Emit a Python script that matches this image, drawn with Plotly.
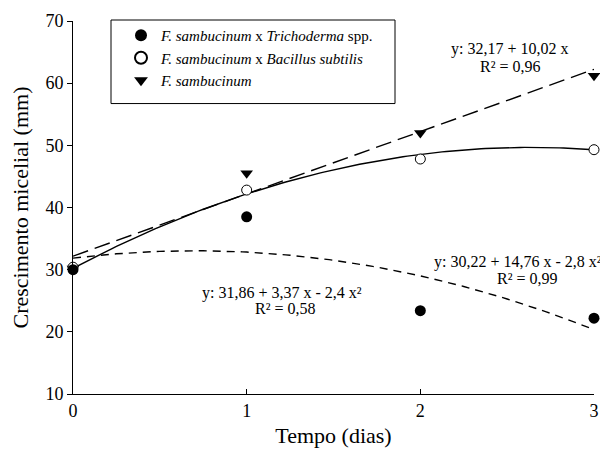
import numpy as np
import plotly.graph_objects as go

# Data
dias = [0, 1, 2, 3]
trichoderma = [30.0, 38.5, 23.4, 22.2]
bacillus = [30.4, 42.8, 47.8, 49.3]
sambucinum = [30.2, 45.5, 52.0, 61.2]

# Regression coefficients (from the chart's equations)
coef_trich = [31.86, 3.37, -2.4]
coef_bac = [30.22, 14.76, -2.8]
coef_samb = [32.17, 10.02, 0.0]

names = ["<i>F. sambucinum</i> x <i>Trichoderma</i> spp.",
         "<i>F. sambucinum</i> x <i>Bacillus subtilis</i>",
         "<i>F. sambucinum</i>"]

xs = np.linspace(0, 3, 121)
def curve(c):
    return c[0] + c[1] * xs + c[2] * xs ** 2

FONT = "Liberation Serif, Times New Roman, Times, serif"
fig = go.Figure()

# fitted lines
fig.add_trace(go.Scatter(x=xs, y=curve(coef_trich), mode="lines", showlegend=False,
                         line=dict(color="black", width=1.4, dash="8px,6px")))
fig.add_trace(go.Scatter(x=xs, y=curve(coef_bac), mode="lines", showlegend=False,
                         line=dict(color="black", width=1.4)))
fig.add_trace(go.Scatter(x=xs, y=curve(coef_samb), mode="lines", showlegend=False,
                         line=dict(color="black", width=1.4, dash="16px,7px")))

# points
fig.add_trace(go.Scatter(x=dias, y=sambucinum, mode="markers", name=names[2],
                         marker=dict(symbol="triangle-down", size=11, color="black"),
                         cliponaxis=False, legendrank=3))
fig.add_trace(go.Scatter(x=dias, y=bacillus, mode="markers", name=names[1],
                         marker=dict(symbol="circle", size=10, color="white",
                                     line=dict(color="black", width=1)),
                         cliponaxis=False, legendrank=2))
fig.add_trace(go.Scatter(x=dias, y=trichoderma, mode="markers", name=names[0],
                         marker=dict(symbol="circle", size=11, color="black"),
                         cliponaxis=False, legendrank=1))

# page offset (body margin) of 8px
OFF = 8
W, H = 600, 450
L, R, T, B = 73 - OFF, 14, 19 - OFF, 64
PW, PH = W - L - R, H - T - B

def fx(px):  # screen px -> plot-area fraction
    return (px - 73) / PW
def fy(py):
    return 1 - (py - 19) / PH

anns = [
    (509, 47, "y: 32,17 + 10,02 x", "center"), (510, 65, "R² = 0,96", "center"),
    (604, 261, "y: 30,22 + 14,76 x - 2,8 x²", "right"), (527, 278, "R² = 0,99", "center"),
    (282, 292, "y: 31,86 + 3,37 x - 2,4 x²", "center"), (285, 308, "R² = 0,58", "center"),
]
for (px, py, t, anc) in anns:
    fig.add_annotation(x=fx(px), y=fy(py), xref="paper", yref="paper",
                       text=t, showarrow=False, xanchor=anc, yanchor="middle",
                       font=dict(family=FONT, size=16, color="black"))

# Legend box
fig.add_shape(type="rect", xref="paper", yref="paper",
              x0=fx(111), x1=fx(395), y0=fy(102), y1=fy(18),
              line=dict(color="black", width=1), fillcolor="rgba(0,0,0,0)")

fig.update_layout(
    width=W, height=H,
    margin=dict(l=L, r=R, t=T, b=B),
    paper_bgcolor="white", plot_bgcolor="white",
    font=dict(family=FONT, size=16, color="black"),
    showlegend=True,
    legend=dict(x=fx(121), y=fy(17),
                xanchor="left", yanchor="top", bgcolor="rgba(0,0,0,0)",
                font=dict(family=FONT, size=15), tracegroupgap=0,
                itemsizing="constant"),
    xaxis=dict(range=[0, 3], tickvals=[0, 1, 2, 3], showgrid=False, zeroline=False,
               showline=True, linecolor="black", linewidth=1, automargin=False,
               ticks="inside", ticklen=5, tickcolor="black",
               title=dict(text="Tempo (dias)", font=dict(family=FONT, size=22), standoff=8),
               tickfont=dict(family=FONT, size=18)),
    yaxis=dict(range=[10, 70], dtick=10, showgrid=False, zeroline=False,
               showline=True, linecolor="black", linewidth=1, automargin=False,
               ticks="outside", ticklen=5, tickcolor="black",
               title=dict(text="Crescimento micelial (mm)", font=dict(family=FONT, size=22), standoff=12),
               tickfont=dict(family=FONT, size=18)),
)

fig.write_html("out.html")
